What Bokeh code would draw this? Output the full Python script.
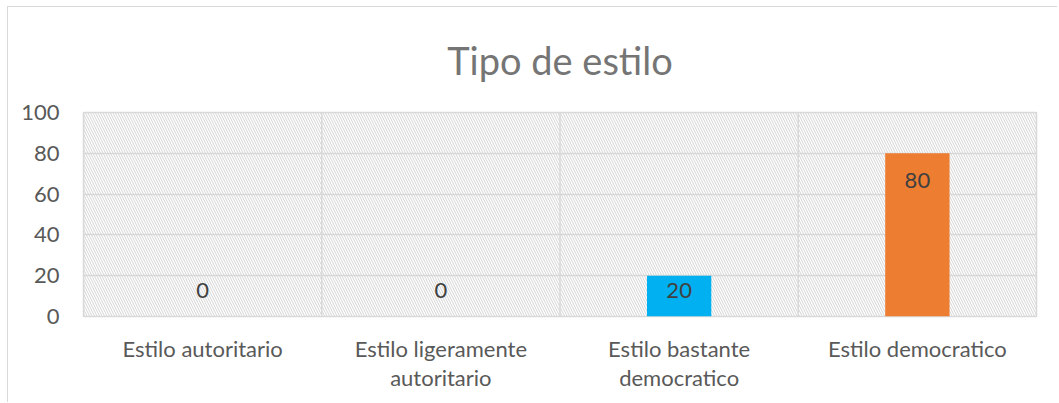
import numpy as np
from bokeh.plotting import figure
from bokeh.models import (FactorRange, BoxAnnotation, FixedTicker, ColumnDataSource,
                          Range1d)
from bokeh.transform import dodge
from bokeh.core.properties import value
from bokeh.embed import file_html
from bokeh.resources import INLINE

# ---- data ----
categories = ["Estilo autoritario", "Estilo ligeramente\nautoritario",
              "Estilo bastante\ndemocratico", "Estilo democratico"]
values = [0, 0, 20, 80]
bar_colors = ["#4472C4", "#A5A5A5", "#00B0F0", "#ED7D31"]
y_ticks = [0, 20, 40, 60, 80, 100]
title_text = "Tipo de estilo"

FONT = "Lato"
GRID = "#d9d9d9"
TXT = "#595959"

p = figure(width=1050, height=396, x_range=FactorRange(factors=categories),
           y_range=Range1d(0, 100), output_backend="svg", toolbar_location=None,
           min_border_left=75, min_border_right=22, min_border_top=105,
           min_border_bottom=87)
p.styles = {"border-top": "1px solid #d9d9d9", "border-left": "1px solid #d9d9d9",
            "margin-left": "7px", "margin-top": "6px"}

# title
p.title.text = title_text
p.title.align = "center"
p.title.vertical_align = "top"
p.title.text_font = FONT
p.title.text_font_size = "38px"
p.title.text_font_style = "normal"
p.title.text_color = "#757575"
p.title.standoff = 56
p.title.offset = -24

# background hatch over the whole frame
p.add_layout(BoxAnnotation(fill_alpha=0, line_alpha=0, hatch_pattern="\\",
                           hatch_color="#d4d4d4", hatch_scale=5, hatch_weight=1,
                           level="underlay"))

p.outline_line_color = GRID
p.outline_line_width = 1.5
p.background_fill_color = "white"
p.border_fill_color = "white"

# grids
p.xgrid.visible = False
p.ygrid.ticker = FixedTicker(ticks=y_ticks)
p.ygrid.grid_line_color = GRID
p.ygrid.grid_line_width = 1.5

src = ColumnDataSource(dict(cat=categories, val=values, col=bar_colors,
                            lab=[str(v) for v in values],
                            ly=list(np.maximum(np.array(values) - 13.5, 12.7)),
                            y0=[0] * len(values), y1=[100] * len(values)))

# category separators
p.segment(x0=dodge("cat", -0.5, range=p.x_range), x1=dodge("cat", -0.5, range=p.x_range),
          y0="y0", y1="y1", source=src, line_color=GRID, line_width=1.5)

p.vbar(x="cat", top="val", width=0.27, source=src, fill_color="col", line_color=None)

p.text(x="cat", y="ly", text="lab", source=src, text_align="center",
       text_baseline="middle", text_font=value(FONT), text_font_size="22px",
       text_color="#404040")

# axes
p.yaxis.ticker = FixedTicker(ticks=y_ticks)
p.yaxis.axis_line_color = None
p.yaxis.major_tick_line_color = None
p.yaxis.minor_tick_line_color = None
p.yaxis.major_label_standoff = 18
p.yaxis.major_label_text_font = FONT
p.yaxis.major_label_text_font_size = "22px"
p.yaxis.major_label_text_color = TXT

p.xaxis.axis_line_color = None
p.xaxis.major_tick_line_color = None
p.xaxis.minor_tick_line_color = None
p.xaxis.major_label_standoff = 12
p.xaxis.major_label_text_font = FONT
p.xaxis.major_label_text_font_size = "22px"
p.xaxis.major_label_text_color = TXT
p.xaxis.major_label_text_line_height = 1.1

open("out.html", "w").write(file_html(p, INLINE))
